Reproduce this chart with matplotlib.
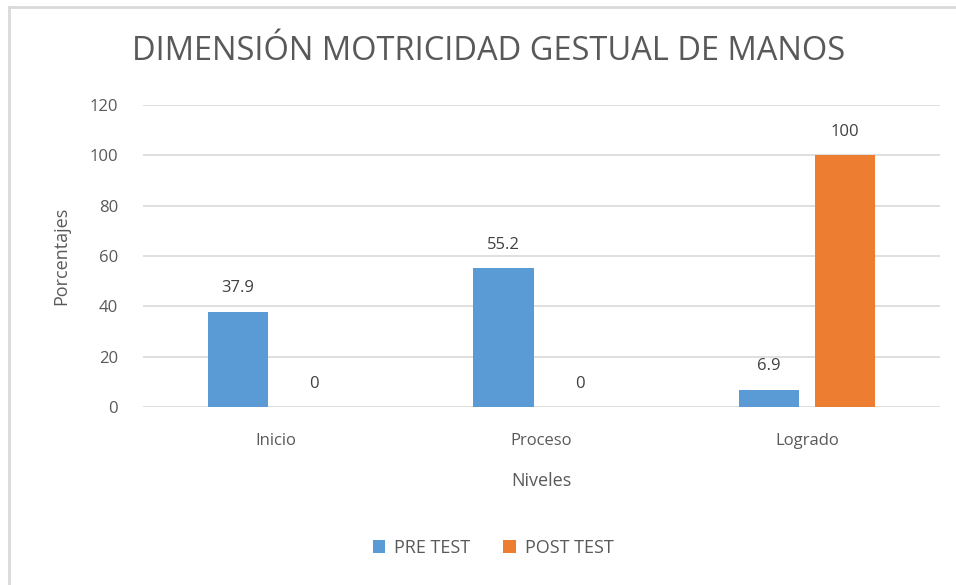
import numpy as np
import matplotlib.pyplot as plt
from matplotlib.lines import Line2D

categories = ['Inicio', 'Proceso', 'Logrado']
pre_test = [37.9, 55.2, 6.9]
post_test = [0, 0, 100]
pre_labels = ['37.9', '55.2', '6.9']
post_labels = ['0', '0', '100']
y_ticks = [0, 20, 40, 60, 80, 100, 120]

plt.rcParams['font.family'] = ['Open Sans', 'DejaVu Sans']

W, H = 956, 585
fig = plt.figure(figsize=(W / 100, H / 100), dpi=100)
ax = fig.add_axes([143 / W, 1 - 407 / H, (940 - 143) / W, (407 - 105) / H])

blue = '#5B9BD5'
orange = '#ED7D31'
text_col = '#595959'

x = np.arange(len(categories))
w = 0.226
off = 0.143
b1 = ax.bar(x - off, pre_test, w, color=blue, label='PRE TEST', zorder=3)
b2 = ax.bar(x + off, post_test, w, color=orange, label='POST TEST', zorder=3)

for bars, labs in ((b1, pre_labels), (b2, post_labels)):
    for rect, lab in zip(bars, labs):
        ax.annotate(lab, (rect.get_x() + rect.get_width() / 2, rect.get_height()),
                    xytext=(0, 11), textcoords='offset points', ha='center', va='bottom',
                    fontsize=12, color='#404040')

ax.set_xlim(-0.5, 2.5)
ax.set_ylim(0, 120)
ax.set_yticks(y_ticks)
ax.set_xticks(x)
ax.set_xticklabels(categories)
ax.tick_params(axis='both', length=0, labelsize=12, labelcolor=text_col)
ax.tick_params(axis='y', pad=18)
ax.tick_params(axis='x', pad=19)
ax.grid(axis='y', color='#D9D9D9', linewidth=1.2, zorder=0)
for s in ax.spines.values():
    s.set_visible(False)

ax.set_ylabel('Porcentajes', fontsize=13, color=text_col, labelpad=14)
ax.set_xlabel('Niveles', fontsize=13, color=text_col, labelpad=16)

fig.text(489 / W, 1 - 52 / H, 'DIMENSIÓN MOTRICIDAD GESTUAL DE MANOS', ha='center', va='center',
         fontsize=23.5, color=text_col)

fig.legend(loc='center', bbox_to_anchor=(493 / W, 1 - 548 / H), ncol=2, frameon=False,
           fontsize=13, labelcolor=text_col, handlelength=0.7, handleheight=0.7,
           columnspacing=1.8, handletextpad=0.5)

fig.add_artist(Line2D([9 / W, 9 / W], [0, 1 - 7 / H], color='#D9D9D9', linewidth=2,
                      transform=fig.transFigure))
fig.add_artist(Line2D([9 / W, 1], [1 - 7 / H, 1 - 7 / H], color='#D9D9D9', linewidth=2,
                      transform=fig.transFigure))

fig.savefig('out.png', dpi=100)
